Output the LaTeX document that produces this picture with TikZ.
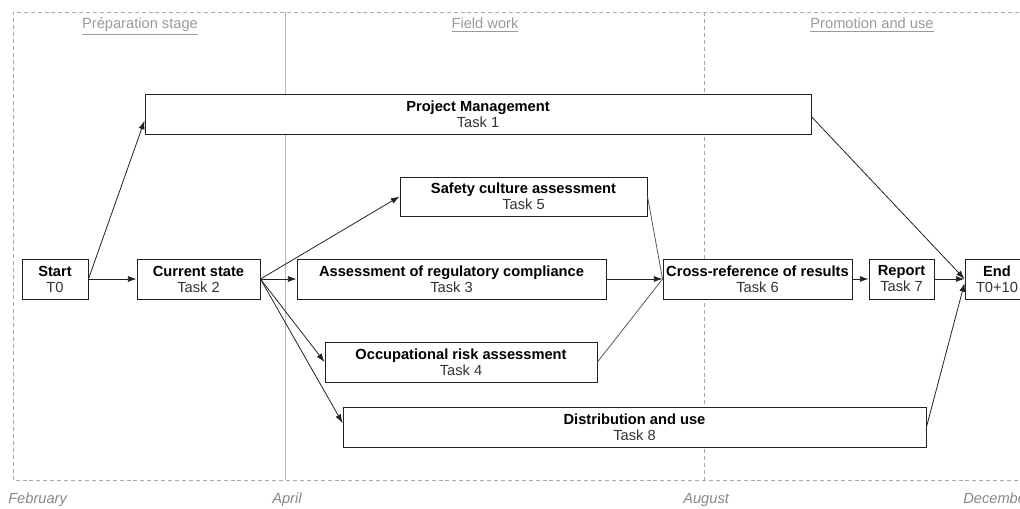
\documentclass[tikz,border=0pt]{standalone}
\usepackage{fontspec}
\setmainfont{Liberation Sans}
\usetikzlibrary{arrows.meta,calc}
\definecolor{framegray}{HTML}{A8A8A8}
\definecolor{titlegray}{HTML}{9A9A9A}
\definecolor{monthgray}{HTML}{888888}
\definecolor{boxline}{HTML}{222222}
\definecolor{subtext}{HTML}{333333}
\tikzset{
  box/.style={draw=boxline, line width=0.7pt, fill=white, minimum height=30pt, inner sep=0pt,
    align=center, font=\fontsize{11}{12}\selectfont},
  arr/.style={draw=boxline, line width=0.6pt, -{Latex[length=6.5pt,width=4.5pt]}},
  plainline/.style={draw=black!65, line width=0.6pt},
  stagetitle/.style={text=titlegray, font=\fontsize{11}{12}\selectfont, anchor=base, inner sep=0pt},
  month/.style={text=monthgray, font=\fontsize{11}{12}\selectfont\itshape, anchor=base west, inner sep=0pt},
  frameline/.style={draw=framegray, line width=0.6pt, dash pattern=on 3pt off 2.2pt},
}
\newcommand{\tk}[2]{\textbf{#1}\\{\color{subtext}#2}}
\begin{document}
\begin{tikzpicture}[x=0.75pt,y=-0.75pt]
\useasboundingbox (0,0) rectangle (1020,509);
\clip (0,0) rectangle (1020,509);
% frame and separators
\draw[frameline] (1040,12) -- (13,12) -- (13,480) -- (1040,480);
\draw[draw=framegray!85, line width=0.7pt] (285,12) -- (285,480);
\draw[frameline] (704,12) -- (704,480);
% stage titles
\node[stagetitle] (s1) at (140,29) {\underline{Préparation stage}};
\node[stagetitle] (s2) at (485,29) {\underline{Field work}};
\node[stagetitle] (s3) at (872,29) {\underline{Promotion and use}};
% months
\node[month] (m1) at (8,503) {February};
\node[month] (m2) at (272,503) {April};
\node[month] (m3) at (683,503) {August};
\node[month] (m4) at (963,503) {December};
% boxes
\node[box, minimum width=49.5pt] (start) at (55,279) {\tk{Start}{T0}};
\node[box, minimum width=92.25pt] (cur) at (198.5,279) {\tk{Current state}{Task 2}};
\node[box, minimum width=499.5pt] (pm) at (478,114) {\tk{Project Management}{Task 1}};
\node[box, minimum width=185.25pt, minimum height=29.25pt] (t5) at (523.5,196.5) {\tk{Safety culture assessment}{Task 5}};
\node[box, minimum width=231.75pt] (t3) at (451.5,279) {\tk{Assessment of regulatory compliance}{Task 3}};
\node[box, minimum width=204pt] (t4) at (461,362) {\tk{Occupational risk assessment}{Task 4}};
\node[box, minimum width=437.25pt] (t8) at (634.5,427) {\tk{Distribution and use}{Task 8}};
\node[box, minimum width=141.75pt] (t6) at (757.5,279) {\tk{Cross-reference of results}{Task 6}};
\node[box, minimum width=48.75pt] (t7) at (901.5,279) {\tk{Report}{Task 7}};
\node[box, minimum width=48pt] (end) at (997,279) {\tk{End}{T0+10}};
% connectors
\draw[arr] (start.east) -- ([yshift=-5pt]pm.west);
\draw[arr] (start) -- (cur);
\draw[arr] (cur.east) -- (t5.west);
\draw[arr] (cur.east) -- (t3.west);
\draw[arr] (cur.east) -- (t4.west);
\draw[arr] (cur.east) -- ([yshift=3pt]t8.west);
\draw[plainline] (t5.east) -- (t6.west);
\draw[plainline] (t4.east) -- (t6.west);
\draw[arr] (t3.east) -- (t6.west);
\draw[arr] (t6) -- (t7);
\draw[arr] (t7) -- (end);
\draw[arr] ([yshift=-2pt]pm.east) -- (end.west);
\draw[arr] (t8.east) -- ([yshift=-3pt]end.west);
\end{tikzpicture}
\end{document}
